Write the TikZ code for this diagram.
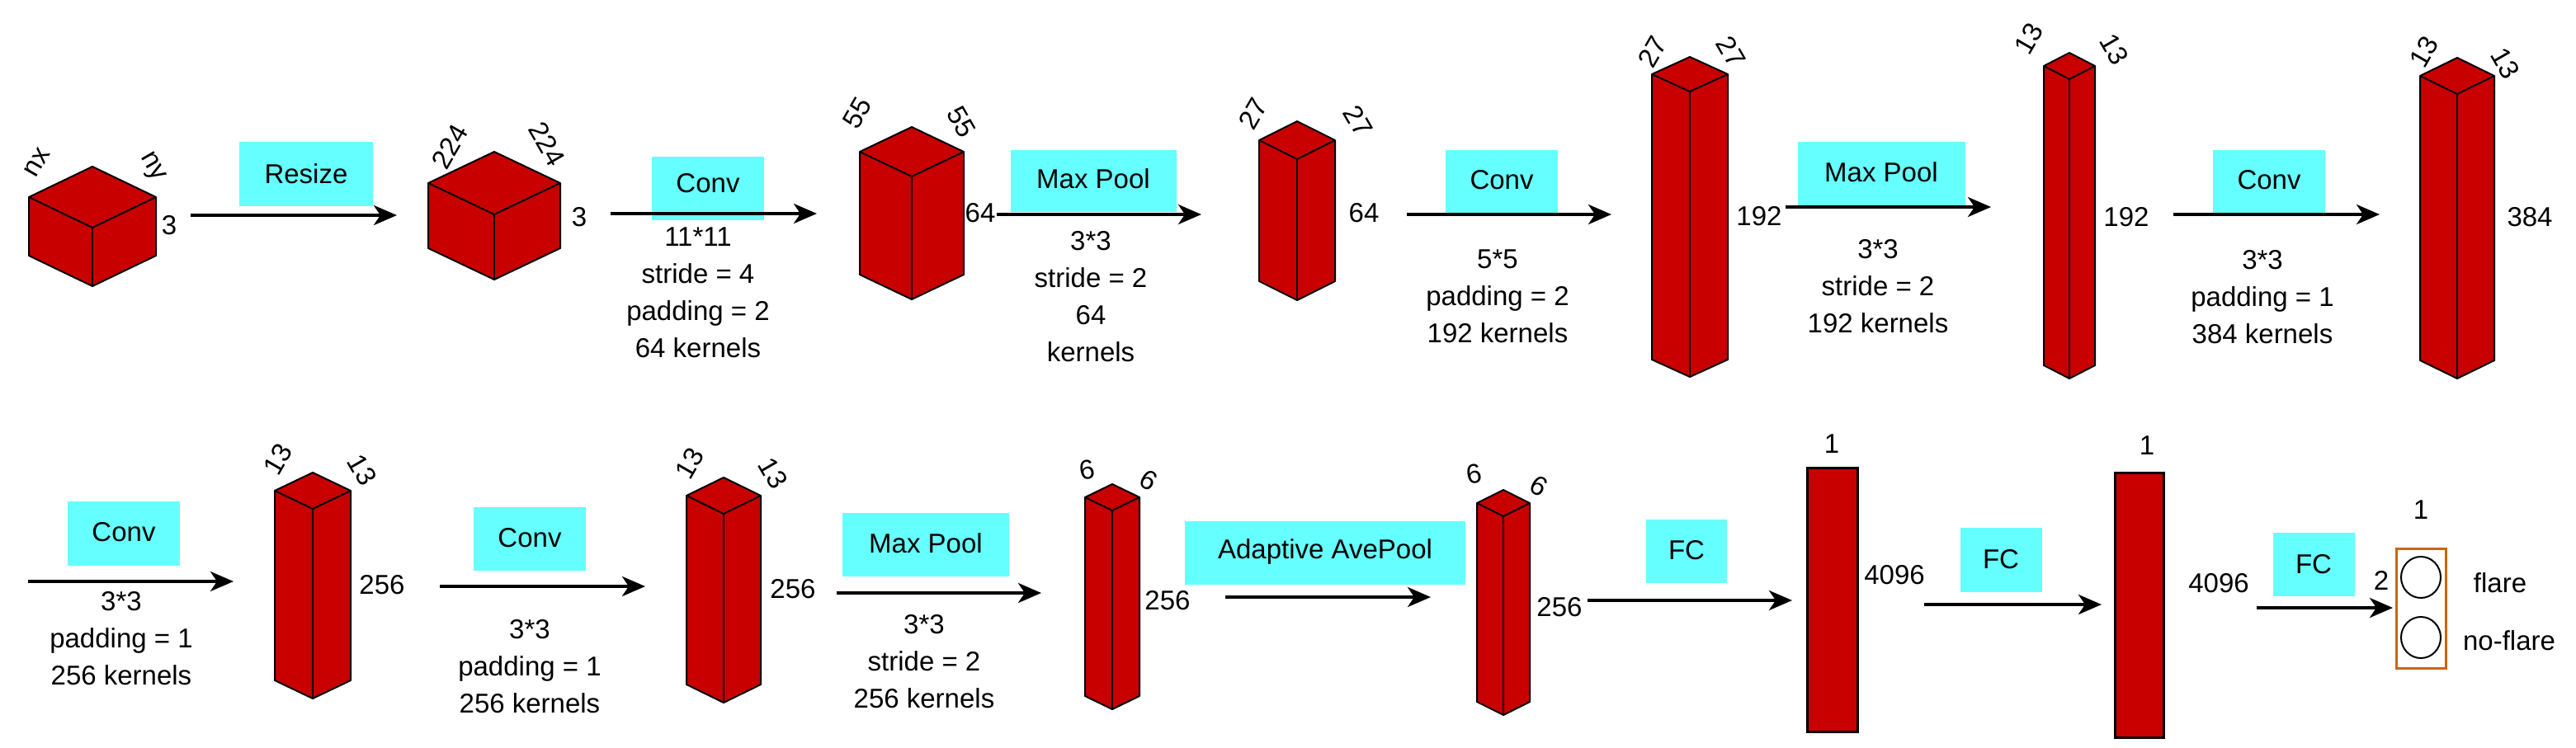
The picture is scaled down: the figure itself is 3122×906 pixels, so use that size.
\documentclass[tikz,border=0pt]{standalone}
\usepackage{fontspec}
\setmainfont{Liberation Sans}
\usetikzlibrary{arrows.meta,shapes.geometric}
\definecolor{blk}{HTML}{C80000}
\definecolor{cy}{HTML}{66FFFF}
\definecolor{org}{HTML}{CC6600}
\newcommand\cub[5]{%
 \filldraw[fill=blk,draw=black,line width=1pt,line join=round] (#1,#2) -- (#1+#3,#2+#4) -- (#1+#3,#2+#4+#5) -- (#1,#2+2*#4+#5) -- (#1-#3,#2+#4+#5) -- (#1-#3,#2+#4) -- cycle;
 \draw[line width=1pt] (#1-#3,#2+#4) -- (#1,#2+2*#4) -- (#1+#3,#2+#4);
 \draw[line width=1pt] (#1,#2+2*#4) -- (#1,#2+2*#4+#5);}
\begin{document}
\begin{tikzpicture}[x=0.5pt,y=-0.5pt,
 every node/.style={font=\fontsize{16.5}{22.5}\selectfont,inner sep=0pt},
 box/.style={fill=cy,anchor=north west},
 txt/.style={align=center},
 arr/.style={line width=2pt,-{Stealth[length=14pt,width=12pt,inset=4pt]}}]
\useasboundingbox (0,0) rectangle (3122,906);
% ---- boxes (labels) ----
\node[box,minimum width=162*0.5pt,minimum height=78*0.5pt] (b1) at (290,172) {};
\node at (371,211) {Resize};
\node[box,minimum width=136*0.5pt,minimum height=77*0.5pt] (b2) at (790,190) {};
\node at (858,222) {Conv};
\node[box,minimum width=201*0.5pt,minimum height=75*0.5pt] (b3) at (1225,182) {};
\node at (1325,217) {Max Pool};
\node[box,minimum width=136*0.5pt,minimum height=76*0.5pt] (b4) at (1752,182) {};
\node at (1820,218) {Conv};
\node[box,minimum width=203*0.5pt,minimum height=78*0.5pt] (b5) at (2179,172) {};
\node at (2280,209) {Max Pool};
\node[box,minimum width=136*0.5pt,minimum height=76*0.5pt] (b6) at (2682,182) {};
\node at (2750,218) {Conv};
\node[box,minimum width=136*0.5pt,minimum height=78*0.5pt] (b7) at (82,608) {};
\node at (150,645) {Conv};
\node[box,minimum width=136*0.5pt,minimum height=77*0.5pt] (b8) at (574,615) {};
\node at (642,652) {Conv};
\node[box,minimum width=202*0.5pt,minimum height=77*0.5pt] (b9) at (1021,622) {};
\node at (1122,659) {Max Pool};
\node[box,minimum width=340*0.5pt,minimum height=77*0.5pt] (b10) at (1436,632) {};
\node at (1606,669) {Adaptive AvePool};
\node[box,minimum width=98*0.5pt,minimum height=77*0.5pt] (b11) at (1995,630) {};
\node at (2044,667) {FC};
\node[box,minimum width=99*0.5pt,minimum height=78*0.5pt] (b12) at (2376,640) {};
\node at (2425,678) {FC};
\node[box,minimum width=99*0.5pt,minimum height=77*0.5pt] (b13) at (2755,646) {};
\node at (2804,684) {FC};
% ---- blocks ----
\cub{112}{202}{77}{37}{71}
\cub{599}{184}{80}{38}{79}
\cub{1105}{154}{63}{30}{149}
\cub{1572}{147}{46}{23}{171}
\cub{2048}{69}{46}{21}{346}
\cub{2508}{64}{31}{16}{363}
\cub{2978}{70}{45}{22}{345}
\cub{379}{573}{46}{22}{230}
\cub{877}{579}{45}{22}{229}
\cub{1348}{587}{33}{16}{241}
\cub{1822}{594}{32}{16}{241}
\filldraw[fill=blk,draw=black,line width=1.5pt] (2190,567) rectangle (2251,887);
\filldraw[fill=blk,draw=black,line width=1.5pt] (2563,573) rectangle (2622,894);
\draw[org,line width=1.5pt] (2904,665) rectangle (2964,810);
\node[draw,ellipse,line width=1pt,minimum width=24pt,minimum height=25pt] (o1) at (2934,700) {};
\node[draw,ellipse,line width=1pt,minimum width=24pt,minimum height=25pt] (o2) at (2934,773) {};
% ---- coordinates for connectors ----
\foreach \n/\a/\b/\y in {1/231/481/261,2/740/990/259,3/1208/1456/260,4/1705/1953/260,5/2164/2413/251,6/2634/2884/260,
 7/34/283/705,8/533/782/711,9/1014/1262/719,10/1485/1734/724,11/1924/2172/728,12/2332/2547/733,13/2735/2900/737}{
 \coordinate (s\n) at (\a,\y); \coordinate (e\n) at (\b,\y);}
\foreach \n in {1,...,13}{\draw[arr] (s\n) -- (e\n);}
% ---- dimension labels ----
\node[rotate=60] at (45,197) {nx};
\node[rotate=-60] at (184,203) {ny};
\node at (205,273) {3};
\node[rotate=60] at (545,178) {224};
\node[rotate=-60] at (663,175) {224};
\node at (702,263) {3};
\node[rotate=60] at (1039,137) {55};
\node[rotate=-60] at (1165,148) {55};
\node at (1188,258) {64};
\node[rotate=60] at (1519,138) {27};
\node[rotate=-60] at (1646,147) {27};
\node at (1653,258) {64};
\node[rotate=60] at (2003,63) {27};
\node[rotate=-60] at (2098,63) {27};
\node at (2132,262) {192};
\node[rotate=60] at (2459,47) {13};
\node[rotate=-60] at (2562,60) {13};
\node at (2577,263) {192};
\node[rotate=60] at (2938,63) {13};
\node[rotate=-60] at (3036,77) {13};
\node at (3066,263) {384};
\node[rotate=60] at (337,557) {13};
\node[rotate=-60] at (439,570) {13};
\node at (463,709) {256};
\node[rotate=60] at (836,562) {13};
\node[rotate=-60] at (937,574) {13};
\node at (961,714) {256};
\node[rotate=10] at (1318,570) {6};
\node[rotate=-30] at (1392,582) {6};
\node at (1415,728) {256};
\node[rotate=10] at (1787,575) {6};
\node[rotate=-30] at (1865,589) {6};
\node at (1890,736) {256};
\node at (2220,538) {1};
\node at (2296,697) {4096};
\node at (2602,540) {1};
\node at (2689,707) {4096};
\node at (2934,618) {1};
\node at (2886,704) {2};
\node at (3030,707) {flare};
\node at (3041,777) {no-flare};
% ---- parameter texts ----
\node[txt] at (846,355) {11*11\\stride = 4\\padding = 2\\64 kernels};
\node[txt] at (1322,360) {3*3\\stride = 2\\64\\kernels};
\node[txt] at (1815,359) {5*5\\padding = 2\\192 kernels};
\node[txt] at (2276,347) {3*3\\stride = 2\\192 kernels};
\node[txt] at (2742,360) {3*3\\padding = 1\\384 kernels};
\node[txt] at (147,774) {3*3\\padding = 1\\256 kernels};
\node[txt] at (642,808) {3*3\\padding = 1\\256 kernels};
\node[txt] at (1120,802) {3*3\\stride = 2\\256 kernels};
\end{tikzpicture}
\end{document}
